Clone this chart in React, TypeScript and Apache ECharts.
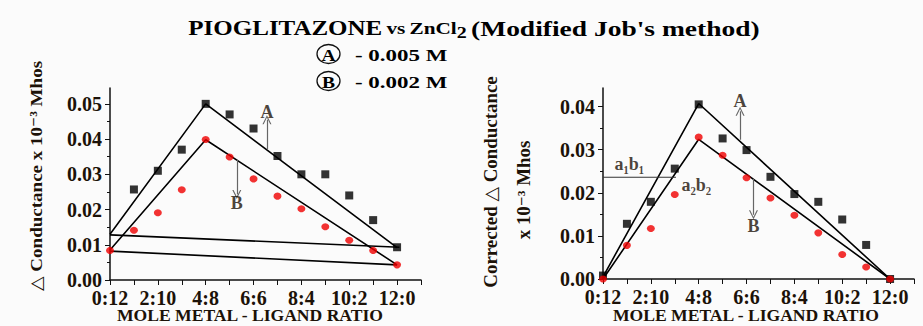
import React, { useEffect, useRef } from 'react';
import * as echarts from 'echarts';

const molePoints = [0, 1, 2, 3, 4, 5, 6, 7, 8, 9, 10, 11, 12];
const ratioTicks = [0, 2, 4, 6, 8, 10, 12];
const ratioLabels = ['0:12', '2:10', '4:8', '6:6', '8:4', '10:2', '12:0'];
const leftTicks = [0, 0.01, 0.02, 0.03, 0.04, 0.05];
const rightTicks = [0, 0.01, 0.02, 0.03, 0.04];

const leftA = [null, 0.0257, 0.031, 0.037, 0.05, 0.047, 0.043, 0.0352, 0.03, 0.03, 0.024, 0.017, 0.0093];
const leftB = [0.0084, 0.0141, 0.0191, 0.0256, 0.0399, 0.0349, 0.0287, 0.0238, 0.0202, 0.0151, 0.0113, 0.0084, 0.0043];
const rightA = [0.0008, 0.0128, 0.0179, 0.0256, 0.0405, 0.0326, 0.0299, 0.0237, 0.0197, 0.0179, 0.0138, 0.0079, 0];
const rightB = [0, 0.0078, 0.0117, 0.0196, 0.0329, 0.0287, 0.0235, 0.0188, 0.0148, 0.0107, 0.0057, 0.0028, 0];

const leftFitA = [[0, 0.013], [4, 0.05], [12, 0.0092]];
const leftBaseA = [[0, 0.0128], [12.1, 0.0093]];
const leftFitB = [[0, 0.0085], [4, 0.0398], [12, 0.0043]];
const leftBaseB = [[0, 0.0082], [12, 0.0043]];
const rightFitA = [[0, 0.0005], [4, 0.0407], [12, 0]];
const rightFitB = [[0, 0], [4, 0.0324], [12, 0]];
const rightGuide = [[0, 0.0236], [3.05, 0.0236]];

const leftArrowA = [[6.56, 0.0372], [6.56, 0.0455]];
const leftArrowB = [[5.3, 0.0341], [5.3, 0.0243]];
const rightArrowA = [[5.73, 0.0323], [5.73, 0.0389]];
const rightArrowB = [[6.29, 0.0232], [6.29, 0.0149]];

const leftNotes = [{ name: 'A', value: [6.56, 0.0478] }, { name: 'B', value: [5.3, 0.0219] }];
const rightNotes = [
  { name: 'A', value: [5.73, 0.0413] },
  { name: 'B', value: [6.29, 0.0122] },
  { name: 'a₁b₁', value: [1.1, 0.0266] },
  { name: 'a₂b₂', value: [3.9, 0.0217] },
];

const SERIF = "'Liberation Serif', 'DejaVu Serif', 'Times New Roman', serif";
const TEXT = '#1c1208';

const pts = (vals: (number | null)[]) =>
  molePoints.map((x, i) => [x, vals[i]]).filter((p) => p[1] !== null);

const chevron = 'path://M0,10 L5,0 L10,10 L8.6,10 L5,2.6 L1.4,10 Z';

function xAxisCfg(gridIndex: number) {
  return {
    type: 'value',
    gridIndex,
    min: 0,
    max: 13,
    interval: 1,
    axisLine: { show: true, onZero: false, lineStyle: { color: '#111', width: 1.5 } },
    axisTick: { show: true, length: 5, inside: false, lineStyle: { color: '#111', width: 1 } },
    splitLine: { show: false },
    axisLabel: {
      customValues: ratioTicks,
      margin: 8,
      fontFamily: SERIF,
      fontWeight: 'bold',
      fontSize: 20,
      color: TEXT,
      formatter: (v: number) => {
        const i = ratioTicks.indexOf(Math.round(v));
        return Math.abs(v - Math.round(v)) < 1e-6 && i >= 0 ? ratioLabels[i] : '';
      },
    },
  };
}

function yAxisCfg(gridIndex: number, max: number, ticks: number[]) {
  return {
    type: 'value',
    gridIndex,
    min: 0,
    max,
    interval: 0.01,
    axisLine: { show: true, onZero: false, lineStyle: { color: '#111', width: 1.5 } },
    axisTick: { show: true, length: 5, customValues: ticks, lineStyle: { color: '#111', width: 1 } },
    minorTick: { show: true, splitNumber: 2, length: 3, lineStyle: { color: '#111', width: 1 } },
    splitLine: { show: false },
    minorSplitLine: { show: false },
    axisLabel: {
      customValues: ticks,
      margin: 8,
      fontFamily: SERIF,
      fontWeight: 'bold',
      fontSize: 20,
      color: TEXT,
      formatter: (v: number) => v.toFixed(2),
    },
  };
}

function fitLine(data: number[][], xi: number) {
  return {
    type: 'line',
    xAxisIndex: xi,
    yAxisIndex: xi,
    data,
    symbol: 'none',
    silent: true,
    lineStyle: { color: '#000', width: 1.6 },
    z: 3,
  };
}

function arrow(seg: number[][]) {
  return [{ coord: seg[0] }, { coord: seg[1] }];
}

function noteSeries(xi: number, notes: any[], arrows: number[][][]) {
  return {
    type: 'scatter',
    xAxisIndex: xi,
    yAxisIndex: xi,
    data: notes,
    symbolSize: 0,
    silent: true,
    label: {
      show: true,
      position: 'inside',
      formatter: '{b}',
      fontFamily: SERIF,
      fontWeight: 'bold',
      fontSize: 18,
      color: TEXT,
    },
    markLine: {
      silent: true,
      symbol: ['none', chevron],
      symbolSize: [9, 9],
      label: { show: false },
      lineStyle: { color: '#666', width: 1.2, type: 'solid' },
      data: arrows.map(arrow),
    },
    z: 5,
  };
}

const centered = { align: 'center', verticalAlign: 'middle', textAlign: 'center', textVerticalAlign: 'middle' };
const leftMid = { align: 'left', verticalAlign: 'middle', textAlign: 'left', textVerticalAlign: 'middle' };

export default function App() {
  const ref = useRef<HTMLDivElement>(null);
  useEffect(() => {
    const chart = echarts.init(ref.current!, null, { renderer: 'svg' });
    const option: any = {
      animation: false,
      backgroundColor: '#fbfbfb',
      grid: [
        { left: 110, top: 88, width: 311, height: 192 },
        { left: 603, top: 88, width: 311, height: 191 },
      ],
      xAxis: [xAxisCfg(0), xAxisCfg(1)],
      yAxis: [yAxisCfg(0, 0.0545, leftTicks), yAxisCfg(1, 0.0443, rightTicks)],
      series: [
        fitLine(leftFitA, 0),
        fitLine(leftBaseA, 0),
        fitLine(leftFitB, 0),
        fitLine(leftBaseB, 0),
        fitLine(rightFitA, 1),
        fitLine(rightFitB, 1),
        { ...fitLine(rightGuide, 1), lineStyle: { color: '#333', width: 1.2 } },
        {
          type: 'scatter', xAxisIndex: 0, yAxisIndex: 0, data: pts(leftA),
          symbol: 'rect', symbolSize: 8, itemStyle: { color: '#000' }, clip: false, z: 4,
        },
        {
          type: 'scatter', xAxisIndex: 0, yAxisIndex: 0, data: pts(leftB),
          symbol: 'circle', symbolSize: [8, 7], itemStyle: { color: '#f00000' }, clip: false, z: 4,
        },
        {
          type: 'scatter', xAxisIndex: 1, yAxisIndex: 1, data: pts(rightA),
          symbol: 'rect', symbolSize: 8, itemStyle: { color: '#000' }, clip: false, z: 4,
        },
        {
          type: 'scatter', xAxisIndex: 1, yAxisIndex: 1, data: pts(rightB),
          symbol: 'circle', symbolSize: [8, 7], itemStyle: { color: '#f00000' }, clip: false, z: 4,
        },
        noteSeries(0, leftNotes, [leftArrowA, leftArrowB]),
        noteSeries(1, rightNotes, [rightArrowA, rightArrowB]),
      ],
      graphic: [
        {
          type: 'text',
          x: 474,
          y: 28,
          scaleX: 1.25,
          style: {
            text: "{a|PIOGLITAZONE} {b|vs} {b|ZnCl}{s|2} {c|(Modified Job's method)}",
            ...centered,
            fill: '#000',
            rich: {
              a: { fontFamily: SERIF, fontWeight: 'bold', fontSize: 20, fill: '#000', color: '#000' },
              b: { fontFamily: SERIF, fontWeight: 'bold', fontSize: 17, fill: '#000', color: '#000' },
              s: { fontFamily: SERIF, fontWeight: 'bold', fontSize: 16, fill: '#000', color: '#000', padding: [10, 0, 0, 0] },
              c: { fontFamily: SERIF, fontWeight: 'bold', fontSize: 22, fill: '#000', color: '#000' },
            },
          },
        },
        { type: 'ellipse', shape: { cx: 328.5, cy: 54, rx: 11.5, ry: 9.5 }, style: { fill: 'none', stroke: '#111', lineWidth: 1.3 } },
        { type: 'ellipse', shape: { cx: 328.5, cy: 81, rx: 11.5, ry: 9.5 }, style: { fill: 'none', stroke: '#111', lineWidth: 1.3 } },
        {
          type: 'text', x: 328.5, y: 55, scaleX: 1.15,
          style: { text: 'A', ...centered, font: `bold 17px ${SERIF}`, fill: '#000' },
        },
        {
          type: 'text', x: 328.5, y: 82, scaleX: 1.15,
          style: { text: 'B', ...centered, font: `bold 17px ${SERIF}`, fill: '#000' },
        },
        {
          type: 'text', x: 355, y: 55, scaleX: 1.35,
          style: { text: '- 0.005 M', ...leftMid, font: `bold 17px ${SERIF}`, fill: '#000' },
        },
        {
          type: 'text', x: 355, y: 82, scaleX: 1.35,
          style: { text: '- 0.002 M', ...leftMid, font: `bold 17px ${SERIF}`, fill: '#000' },
        },
        {
          type: 'text', x: 36, y: 176, rotation: Math.PI / 2, scaleX: 1.12,
          style: { text: '△ Conductance x 10⁻³ Mhos', ...centered, font: `bold 17px ${SERIF}`, fill: TEXT },
        },
        {
          type: 'text', x: 491, y: 182, rotation: Math.PI / 2, scaleX: 1.05,
          style: { text: 'Corrected △ Conductance', ...centered, font: `bold 18px ${SERIF}`, fill: TEXT },
        },
        {
          type: 'text', x: 524, y: 190, rotation: Math.PI / 2, scaleX: 1.05,
          style: { text: 'x 10⁻³ Mhos', ...centered, font: `bold 18px ${SERIF}`, fill: TEXT },
        },
        {
          type: 'text', x: 250, y: 316, scaleX: 1.1,
          style: { text: 'MOLE METAL - LIGAND RATIO', ...centered, font: `bold 16px ${SERIF}`, fill: TEXT },
        },
        {
          type: 'text', x: 746, y: 316, scaleX: 1.1,
          style: { text: 'MOLE METAL - LIGAND RATIO', ...centered, font: `bold 16px ${SERIF}`, fill: TEXT },
        },
      ],
    };
    chart.setOption(option);
    return () => chart.dispose();
  }, []);
  return (
    <div
      ref={ref}
      style={{ position: 'absolute', left: 0, top: 0, width: 923, height: 326 }}
    />
  );
}
